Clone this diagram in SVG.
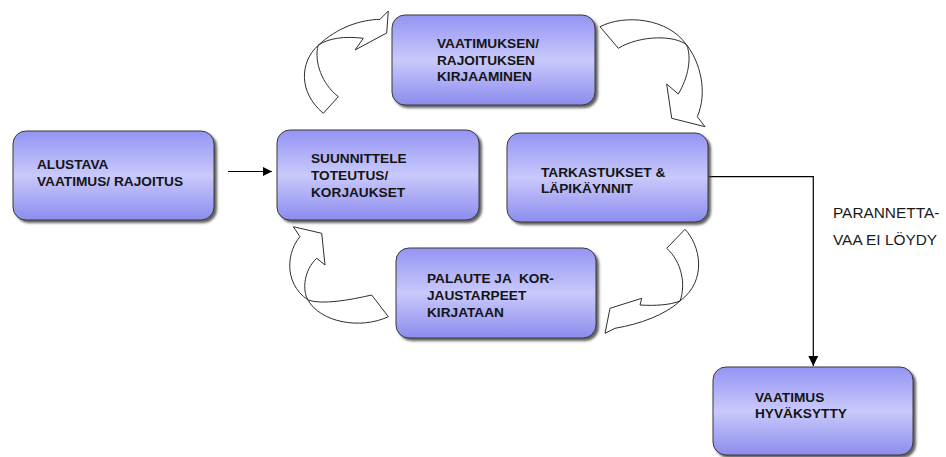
<svg xmlns="http://www.w3.org/2000/svg" width="946" height="457" viewBox="0 0 946 457">
  <defs>
    <linearGradient id="boxFill" x1="0" y1="0" x2="0" y2="1">
      <stop offset="0" stop-color="#9494f4"/>
      <stop offset="0.5" stop-color="#c9c9fc"/>
      <stop offset="1" stop-color="#8c8cee"/>
    </linearGradient>
    <filter id="shadow" x="-10%" y="-10%" width="125%" height="130%">
      <feDropShadow dx="2.5" dy="2.5" stdDeviation="1.2" flood-color="#444" flood-opacity="0.85"/>
    </filter>
    <marker id="head" viewBox="0 0 10 10" refX="10" refY="5" markerWidth="9" markerHeight="9" markerUnits="userSpaceOnUse" orient="auto">
      <path d="M0,0 L10,5 L0,10 Z" fill="#000"/>
    </marker>
    <marker id="headBig" viewBox="0 0 10 10" refX="10" refY="5" markerWidth="10" markerHeight="10" markerUnits="userSpaceOnUse" orient="auto">
      <path d="M0,0 L10,5 L0,10 Z" fill="#000"/>
    </marker>
  </defs>
  <style>
    .box { fill: url(#boxFill); stroke: #3a3a3a; stroke-width: 1; filter: url(#shadow); }
    .lbl { font-family: "Liberation Sans", Arial, sans-serif; font-weight: bold; font-size: 12px; fill: #141414; }
    .note { font-family: "Liberation Sans", Arial, sans-serif; font-size: 14px; fill: #1a1a1a; }
    .cycle { fill: #fff; stroke: #2e2e2e; stroke-width: 1; stroke-linejoin: round; }
    .line { fill: none; stroke: #000; stroke-width: 1.2; }
  </style>

  <g id="connectors">
    <!-- cycle arrows around the central loop -->
    <path class="cycle" d="M380,19.3 C360,20 338,27 318,45.5 C300,62 298,92 323.3,113.3 L338.3,96.7 C322,84 314,62 318,45.5 C328,38 345,36 363.3,38.3 L355,50 L386.7,33 L388.3,11 Z"/>
    <path class="cycle" d="M600,26.7 C625,14 668,18 686.7,45 C700,62 708,92 697.3,116.7 L705,126.7 L671.7,118.3 L666.7,84 L678.3,94 C688,78 692,58 686.7,45 C675,35 640,35 618.3,48.3 Z"/>
    <path class="cycle" d="M685,229.3 C700,245 708,280 680,301 C665,315 640,324 615,328.3 L605,333.3 L610,308.3 L641.7,298.3 L640,305 C655,306 670,305 680,301 C686,285 682,262 666.7,248.3 Z"/>
    <path class="cycle" d="M293.3,226.7 L300,236.7 C288,250 282,282 308,300 C320,322 360,330 388.3,316.7 L371.7,295 C350,300 322,305 308,300 C302,290 304,270 316.7,258.3 L325,265 L321.7,233.3 Z"/>
    <!-- straight and elbow connectors -->
    <line class="line" x1="228" y1="171.5" x2="272" y2="171.5" marker-end="url(#head)"/>
    <polyline class="line" points="708,176.7 813.3,176.7 813.3,366" marker-end="url(#headBig)"/>
  </g>

  <g id="alustava">
    <rect class="box" x="13" y="131" width="201" height="89" rx="13"/>
    <g transform="translate(37,0) scale(1.14,1)">
      <text class="lbl" x="0" y="169">ALUSTAVA</text>
      <text class="lbl" x="0" y="186">VAATIMUS/ RAJOITUS</text>
    </g>
  </g>

  <g id="kirjaaminen">
    <rect class="box" x="392" y="15" width="203" height="90" rx="13"/>
    <g transform="translate(437,0) scale(1.14,1)">
      <text class="lbl" x="0" y="48.5">VAATIMUKSEN/</text>
      <text class="lbl" x="0" y="65">RAJOITUKSEN</text>
      <text class="lbl" x="0" y="81.5">KIRJAAMINEN</text>
    </g>
  </g>

  <g id="suunnittele">
    <rect class="box" x="277" y="130" width="202" height="90" rx="13"/>
    <g transform="translate(311,0) scale(1.14,1)">
      <text class="lbl" x="0" y="163.3">SUUNNITTELE</text>
      <text class="lbl" x="0" y="180">TOTEUTUS/</text>
      <text class="lbl" x="0" y="196.7">KORJAUKSET</text>
    </g>
  </g>

  <g id="tarkastukset">
    <rect class="box" x="507" y="133" width="201" height="89" rx="13"/>
    <g transform="translate(541,0) scale(1.14,1)">
      <text class="lbl" x="0" y="176.7">TARKASTUKSET &amp;</text>
      <text class="lbl" x="0" y="193.3">LÄPIKÄYNNIT</text>
    </g>
  </g>

  <g id="palaute">
    <rect class="box" x="396" y="248" width="200" height="90" rx="13"/>
    <g transform="translate(427,0) scale(1.14,1)">
      <text class="lbl" x="0" y="283.3" xml:space="preserve">PALAUTE JA  KOR-</text>
      <text class="lbl" x="0" y="300">JAUSTARPEET</text>
      <text class="lbl" x="0" y="316.7">KIRJATAAN</text>
    </g>
  </g>

  <g id="hyvaksytty">
    <rect class="box" x="713" y="367" width="200" height="88" rx="13"/>
    <g transform="translate(755,0) scale(1.14,1)">
      <text class="lbl" x="0" y="401.7">VAATIMUS</text>
      <text class="lbl" x="0" y="418.3">HYVÄKSYTTY</text>
    </g>
  </g>

  <g id="ehto">
    <g transform="translate(833,0) scale(1.1,1)">
      <text class="note" x="0" y="218.5">PARANNETTA-</text>
      <text class="note" x="0" y="245">VAA EI LÖYDY</text>
    </g>
  </g>
</svg>
